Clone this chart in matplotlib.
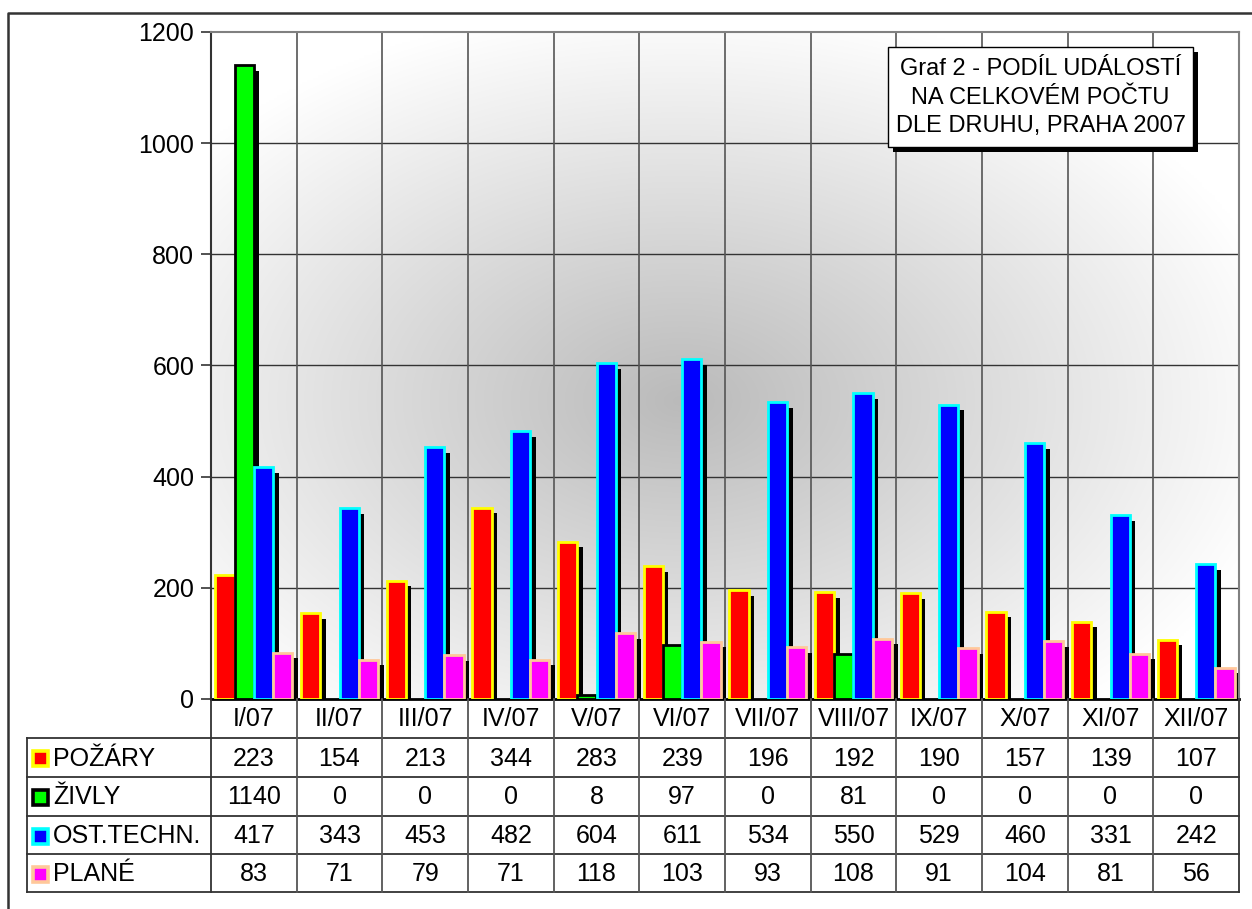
import numpy as np
import matplotlib
matplotlib.use("Agg")
import matplotlib.pyplot as plt
from matplotlib.patches import Rectangle

plt.rcParams['font.family'] = ['Liberation Sans', 'DejaVu Sans']

months = ["I/07", "II/07", "III/07", "IV/07", "V/07", "VI/07", "VII/07",
          "VIII/07", "IX/07", "X/07", "XI/07", "XII/07"]
series_names = ["POŽÁRY", "ŽIVLY", "OST.TECHN.", "PLANÉ"]
pozary = [223, 154, 213, 344, 283, 239, 196, 192, 190, 157, 139, 107]
zivly = [1140, 0, 0, 0, 8, 97, 0, 81, 0, 0, 0, 0]
ost_techn = [417, 343, 453, 482, 604, 611, 534, 550, 529, 460, 331, 242]
plane = [83, 71, 79, 71, 118, 103, 93, 108, 91, 104, 81, 56]
series = [pozary, zivly, ost_techn, plane]
fills = ["#FF0000", "#00FF00", "#0000FF", "#FF00FF"]
edges = ["#FFFF00", "#000000", "#00FFFF", "#FFC89A"]
yticks = [0, 200, 400, 600, 800, 1000, 1200]
title_lines = ["Graf 2 - PODÍL UDÁLOSTÍ", "NA CELKOVÉM POČTU", "DLE DRUHU, PRAHA 2007"]

W, H = 1252, 909
fig = plt.figure(figsize=(W / 100, H / 100), dpi=100)
fig.patch.set_facecolor("white")

# plot area in pixels
L, R, T, B = 211, 1239, 32, 699
ax = fig.add_axes([L / W, 1 - B / H, (R - L) / W, (B - T) / H])
n = len(months)
ax.set_xlim(0, n)
ax.set_ylim(0, 1200)

# radial gradient background
gx = np.linspace(L, R, 400)
gy = np.linspace(T, B, 300)
XX, YY = np.meshgrid(gx, gy)
rr = np.sqrt(((XX - 680) / 620) ** 2 + ((YY - 330) / 400) ** 2)
val = 1 - 0.27 * np.clip(1 - rr, 0, 1) ** 1.0
ax.imshow(np.dstack([val, val, val]), extent=(0, n, 1200, 0), aspect="auto",
          zorder=0, interpolation="bilinear")
ax.set_ylim(0, 1200)

# grid
for yv in yticks[1:-1]:
    ax.axhline(yv, color="#333333", lw=1.0, zorder=1)
for i in range(1, n):
    ax.axvline(i, color="#555555", lw=1.2, zorder=1)

# bars
px_x = (R - L) / n        # px per group
px_y = (B - T) / 1200.0   # px per unit
bw = 0.225
dx = 5.5 / px_x
dy = 5.5 / px_y
x = np.arange(n) + 0.5
for k, (vals, fc, ec) in enumerate(zip(series, fills, edges)):
    xs = x + (k - 1.5) * bw
    for xi, v in zip(xs, vals):
        if v <= 0:
            continue
        sh = max(v - dy, 0)
        ax.bar(xi + dx, sh, width=bw, color="black", lw=0, zorder=2 + 2 * k)
        ax.bar(xi, v, width=bw, color=fc, edgecolor=ec, lw=2.0, zorder=3 + 2 * k)

ax.set_yticks(yticks)
ax.set_yticklabels([str(t) for t in yticks], fontsize=18)
ax.tick_params(axis="y", direction="out", length=7, width=1.2, color="#333333", pad=5)
ax.set_xticks([])
for s in ["top", "right"]:
    ax.spines[s].set_color("#808080")
    ax.spines[s].set_linewidth(1.5)
ax.spines["left"].set_color("#333333")
ax.spines["left"].set_linewidth(1.5)
ax.spines["bottom"].set_color("#000000")
ax.spines["bottom"].set_linewidth(2)
ax.spines["top"].set_zorder(20)
ax.spines["right"].set_zorder(20)

# overlay in pixel coordinates
ov = fig.add_axes([0, 0, 1, 1], zorder=10)
ov.set_xlim(0, W)
ov.set_ylim(H, 0)
ov.axis("off")
ov.patch.set_alpha(0)

# outer border
ov.plot([7.5, 7.5, W], [H, 13, 13], color="#333333", lw=1.8, solid_capstyle="butt")

# table
rows_y = [699, 738, 777, 816, 854, 892]
col_x = [L + i * px_x for i in range(n + 1)]
tl = "#333333"
for yv in rows_y[1:]:
    ov.plot([27, R], [yv, yv], color=tl, lw=1.3)
ov.plot([27, 27], [rows_y[1], rows_y[-1]], color=tl, lw=1.3)
for i, cx in enumerate(col_x):
    ov.plot([cx, cx], [699, rows_y[-1]], color="#555555" if 0 < i < n else tl, lw=1.3)
for i, m in enumerate(months):
    ov.text((col_x[i] + col_x[i + 1]) / 2, (rows_y[0] + rows_y[1]) / 2 + 1, m,
            ha="center", va="center", fontsize=18)
for r, (name, vals, fc, ec) in enumerate(zip(series_names, series, fills, edges)):
    yc = (rows_y[r + 1] + rows_y[r + 2]) / 2 + 1
    ov.add_patch(Rectangle((33, yc - 7.5), 15, 15, facecolor=fc, edgecolor=ec, lw=2.6))
    ov.text(53, yc, name, ha="left", va="center", fontsize=18)
    for i, v in enumerate(vals):
        ov.text((col_x[i] + col_x[i + 1]) / 2, yc, str(v), ha="center", va="center",
                fontsize=18)

# title box
bx0, by0, bx1, by1 = 888, 47, 1193, 147
ov.add_patch(Rectangle((bx0 + 5, by0 + 5), bx1 - bx0, by1 - by0, facecolor="black", lw=0))
ov.add_patch(Rectangle((bx0, by0), bx1 - bx0, by1 - by0, facecolor="white",
                       edgecolor="black", lw=1.0))
for j, line in enumerate(title_lines):
    ov.text((bx0 + bx1) / 2, 69 + j * 28.5, line, ha="center", va="center", fontsize=17)

fig.savefig("out.png", dpi=100)
